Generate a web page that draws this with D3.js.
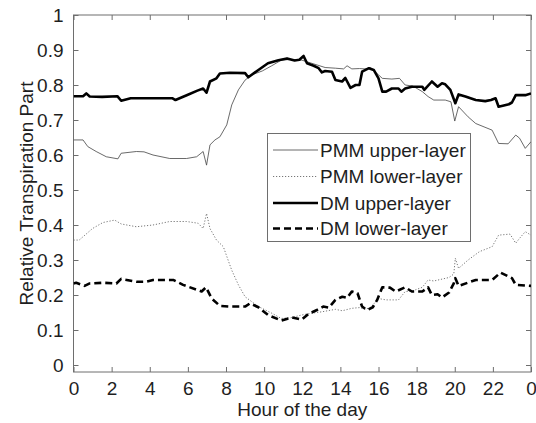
<!DOCTYPE html>
<html><head><meta charset="utf-8">
<script src="https://cdn.jsdelivr.net/npm/d3@7"></script>
<style>body{margin:0;background:#fff}svg{display:block}text{font-family:Arial,"Liberation Sans",sans-serif}</style>
</head><body><svg id="c" width="536" height="423"></svg>
<script>
const xTicks = [0,2,4,6,8,10,12,14,16,18,20,22,24];
const xTickLabels = ["0","2","4","6","8","10","12","14","16","18","20","22","0"];
const yTicks = [0,0.1,0.2,0.3,0.4,0.5,0.6,0.7,0.8,0.9,1];
const yTickLabels = ["0","0.1","0.2","0.3","0.4","0.5","0.6","0.7","0.8","0.9","1"];
const seriesNames = ["PMM upper-layer","PMM lower-layer","DM upper-layer","DM lower-layer"];

const pmmUpperHours = [0,0.5,0.75,1.19,1.72,2.33,2.5,3.3,3.7,4.17,5.05,5.93,6.46,6.8,6.98,7.16,7.42,7.68,8.04,8.3,8.65,9,9.35,9.9,10.4,10.9,11.4,11.98,12.5,13.2,13.74,14.17,14.35,14.6,15,15.3,15.6,16,16.2,16.7,17.1,17.4,17.8,18.3,18.6,18.9,19.5,19.8,20,20.2,20.7,21.1,21.96,22.3,22.8,23.2,23.4,23.7,24];
const pmmUpperValues = [0.643,0.643,0.624,0.61,0.595,0.589,0.605,0.61,0.609,0.6,0.59,0.59,0.595,0.61,0.571,0.629,0.643,0.652,0.686,0.743,0.786,0.814,0.829,0.84,0.855,0.871,0.873,0.871,0.862,0.85,0.848,0.846,0.855,0.846,0.847,0.846,0.849,0.829,0.819,0.817,0.819,0.8,0.797,0.781,0.767,0.757,0.757,0.752,0.697,0.738,0.709,0.69,0.671,0.633,0.632,0.657,0.648,0.619,0.638];

const pmmLowerHours = [0,0.3,1,1.54,2.16,2.5,3.3,4.17,5.05,5.93,6.54,6.8,6.98,7.16,7.5,7.86,8.2,8.3,8.65,9,9.35,9.7,10.4,10.9,11.4,11.98,12.5,13.03,13.74,14.1,14.6,15,15.3,15.6,16,16.4,17.05,17.4,17.75,18.3,18.6,18.9,19.7,19.95,20.03,20.2,20.7,21.3,21.96,22.3,22.9,23.2,23.4,23.7,24];
const pmmLowerValues = [0.357,0.357,0.39,0.407,0.414,0.403,0.395,0.4,0.41,0.41,0.405,0.39,0.433,0.39,0.357,0.338,0.286,0.271,0.229,0.195,0.181,0.167,0.148,0.133,0.135,0.143,0.148,0.152,0.159,0.155,0.162,0.164,0.159,0.165,0.19,0.186,0.186,0.21,0.211,0.222,0.243,0.24,0.25,0.26,0.305,0.276,0.3,0.324,0.338,0.371,0.374,0.348,0.362,0.381,0.371];

const dmUpperHours = [0,0.5,0.67,0.85,1.5,2.3,2.5,3,4,5.2,5.35,6,6.5,6.8,6.98,7.16,7.5,7.68,8.2,9,9.17,9.7,10.2,10.75,11.2,11.6,11.85,12.07,12.25,12.6,12.86,13.03,13.2,13.56,13.74,14.09,14.26,14.53,14.8,15,15.14,15.5,15.75,16,16.2,16.4,16.7,17.05,17.2,17.4,17.75,18.3,18.4,18.8,19.1,19.33,19.5,19.77,20.03,20.2,20.56,21.1,21.6,21.9,22.14,22.3,22.84,23,23.2,23.7,24];
const dmUpperValues = [0.768,0.768,0.776,0.767,0.766,0.768,0.755,0.762,0.762,0.762,0.757,0.772,0.784,0.79,0.778,0.81,0.819,0.833,0.835,0.834,0.822,0.843,0.862,0.871,0.876,0.87,0.872,0.883,0.862,0.855,0.848,0.836,0.84,0.838,0.814,0.81,0.82,0.792,0.8,0.8,0.838,0.848,0.843,0.819,0.781,0.781,0.79,0.79,0.781,0.79,0.795,0.795,0.786,0.81,0.795,0.805,0.802,0.786,0.748,0.773,0.767,0.757,0.754,0.757,0.762,0.738,0.745,0.75,0.771,0.771,0.776];

const dmLowerHours = [0,0.14,0.58,0.85,1.54,2.25,2.5,3.3,3.8,4.17,5.23,5.75,6.72,6.95,7.25,7.68,8.2,9,9.26,9.7,10.2,10.9,11.46,11.98,12.33,12.77,13.1,13.4,13.74,14.1,14.35,14.6,14.9,15.14,15.4,15.7,15.93,16.2,16.6,16.9,17.4,17.75,18.3,18.6,18.8,19.1,19.33,19.7,19.95,20.03,20.2,21.1,21.96,22.4,23,23.2,24];
const dmLowerValues = [0.233,0.235,0.226,0.233,0.235,0.233,0.246,0.238,0.238,0.243,0.243,0.229,0.21,0.222,0.19,0.169,0.167,0.167,0.176,0.165,0.143,0.127,0.136,0.13,0.146,0.157,0.167,0.164,0.186,0.195,0.192,0.21,0.205,0.167,0.157,0.165,0.186,0.222,0.221,0.21,0.222,0.21,0.21,0.222,0.2,0.202,0.193,0.207,0.233,0.248,0.226,0.243,0.243,0.264,0.248,0.229,0.226];

const L = 73.5, R = 531, T = 15, B = 372;
const svg = d3.select("#c");
const x = d3.scaleLinear().domain([0,24]).range([L,R]);
const y = d3.scaleLinear().domain([-0.02,1]).range([B,T]);
const axisColor = "#6e6e6e", textColor = "#1e1e1e", fs = "19px";

// axes with inward ticks on all sides
const gB = svg.append("g").attr("transform",`translate(0,${B})`)
  .call(d3.axisBottom(x).tickValues(xTicks).tickSize(-5).tickPadding(10).tickFormat((d,i)=>xTickLabels[i]));
const gT = svg.append("g").attr("transform",`translate(0,${T})`)
  .call(d3.axisTop(x).tickValues(xTicks).tickSize(-5).tickFormat(""));
const gL = svg.append("g").attr("transform",`translate(${L},0)`)
  .call(d3.axisLeft(y).tickValues(yTicks).tickSize(-5).tickPadding(10).tickFormat((d,i)=>yTickLabels[i]));
const gR = svg.append("g").attr("transform",`translate(${R},0)`)
  .call(d3.axisRight(y).tickValues(yTicks).tickSize(-5).tickFormat(""));
[gB,gT,gL,gR].forEach(g=>{
  g.select(".domain").remove();
  g.selectAll(".tick line").attr("stroke",axisColor);
  g.selectAll("text").attr("fill",textColor).style("font-size",fs).attr("font-family","Arial, 'Liberation Sans', sans-serif");
});
gB.selectAll(".tick text").attr("dy","0.71em");
svg.append("rect").attr("x",L).attr("y",T).attr("width",R-L).attr("height",B-T)
  .attr("fill","none").attr("stroke",axisColor).attr("stroke-width",1);

const styles = [
  {stroke:"#444", width:0.8, dash:null},
  {stroke:"#777", width:1, dash:"1.2,1.8"},
  {stroke:"#000", width:2.6, dash:null},
  {stroke:"#000", width:2.6, dash:"7,4"}
];
const data = [
  pmmUpperHours.map((h,i)=>[h,pmmUpperValues[i]]),
  pmmLowerHours.map((h,i)=>[h,pmmLowerValues[i]]),
  dmUpperHours.map((h,i)=>[h,dmUpperValues[i]]),
  dmLowerHours.map((h,i)=>[h,dmLowerValues[i]])
];
const line = d3.line().x(d=>x(d[0])).y(d=>y(d[1]));
svg.append("clipPath").attr("id","clp").append("rect").attr("x",L).attr("y",T).attr("width",R-L).attr("height",B-T);
const plot = svg.append("g").attr("clip-path","url(#clp)");
data.forEach((d,i)=>{
  plot.append("path").attr("d",line(d)).attr("fill","none")
    .attr("stroke",styles[i].stroke).attr("stroke-width",styles[i].width)
    .attr("stroke-dasharray",styles[i].dash).attr("stroke-linejoin","round");
});

// legend
const lg = svg.append("g");
lg.append("rect").attr("x",267.5).attr("y",133.5).attr("width",203).attr("height",108)
  .attr("fill","#fff").attr("stroke",axisColor);
const rowY = [150,176.5,203,228.5];
seriesNames.forEach((n,i)=>{
  lg.append("line").attr("x1",273).attr("x2",318).attr("y1",rowY[i]).attr("y2",rowY[i])
    .attr("stroke",styles[i].stroke).attr("stroke-width",styles[i].width)
    .attr("stroke-dasharray",styles[i].dash);
  lg.append("text").attr("x",320).attr("y",rowY[i]).attr("dy","0.35em")
    .attr("fill",textColor).style("font-size",fs).text(n);
});

// axis titles
svg.append("text").attr("x",(L+R)/2).attr("y",416).attr("text-anchor","middle")
  .attr("fill",textColor).style("font-size",fs).text("Hour of the day");
svg.append("text").attr("transform",`translate(33,${(T+B)/2}) rotate(-90)`).attr("text-anchor","middle")
  .attr("fill",textColor).style("font-size",fs).text("Relative Transpiration Part");
</script></body></html>
